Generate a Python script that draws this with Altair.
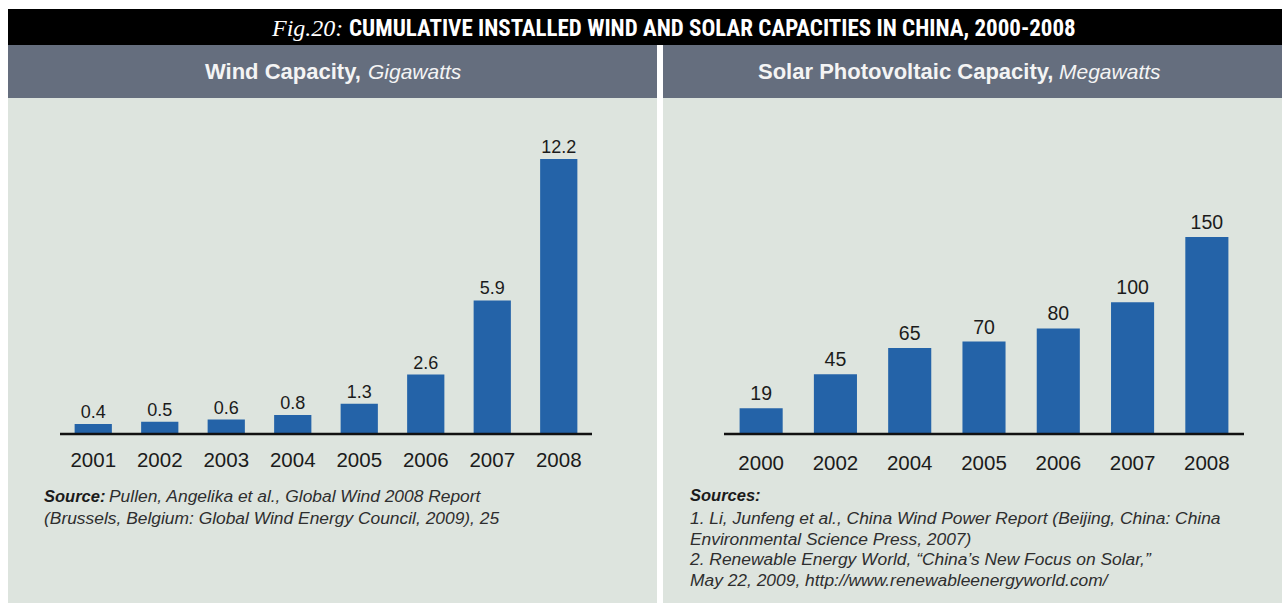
import altair as alt
import pandas as pd

# ---- data -------------------------------------------------------------
wind_years = ["2001", "2002", "2003", "2004", "2005", "2006", "2007", "2008"]
wind_gw = [0.4, 0.5, 0.6, 0.8, 1.3, 2.6, 5.9, 12.2]

solar_years = ["2000", "2002", "2004", "2005", "2006", "2007", "2008"]
solar_mw = [19, 45, 65, 70, 80, 100, 150]

# ---- text -------------------------------------------------------------
fig_label = "Fig.20:"
fig_title = "CUMULATIVE INSTALLED WIND AND SOLAR CAPACITIES IN CHINA, 2000-2008"
wind_head = "Wind Capacity,"
wind_unit = "Gigawatts"
solar_head = "Solar Photovoltaic Capacity,"
solar_unit = "Megawatts"
wind_src_label = "Source:"
wind_src_lines = [
    "Pullen, Angelika et al., Global Wind 2008 Report",
    "(Brussels, Belgium: Global Wind Energy Council, 2009), 25",
]
solar_src_label = "Sources:"
solar_src_lines = [
    "1. Li, Junfeng et al., China Wind Power Report (Beijing, China: China",
    "Environmental Science Press, 2007)",
    "2. Renewable Energy World, \u201cChina\u2019s New Focus on Solar,\u201d",
    "May 22, 2009, http://www.renewableenergyworld.com/",
]

# ---- style ------------------------------------------------------------
W, H = 1282, 603
BAR = "#2463a8"
PANEL = "#dde4de"
HEAD = "#656e7e"
INK = "#1b1b1b"
SRC_INK = "#2e2e2e"
SANS = "Liberation Sans"
NARROW = "Roboto Condensed, Roboto"

wind = pd.DataFrame({"year": wind_years, "gw": wind_gw})
solar = pd.DataFrame({"year": solar_years, "mw": solar_mw})
one = pd.DataFrame({"k": [0]})


def box(x0, x1, y0, y1, color):
    return alt.Chart(one).mark_rect(color=color).encode(
        x=alt.value(x0), x2=alt.value(x1), y=alt.value(y0), y2=alt.value(y1)
    )


def label(text, x, y, size, **kw):
    return alt.Chart(one).mark_text(
        text=text, fontSize=size, align=kw.pop("align", "left"),
        baseline="alphabetic", **kw
    ).encode(x=alt.value(x), y=alt.value(y))


# ---- backgrounds --------------------------------------------------------
frames = [
    box(8, W, 9, 45, "#000000"),
    box(8, 657, 45, 98, HEAD),
    box(663, W, 45, 98, HEAD),
    box(8, 657, 98, H, PANEL),
    box(663, W, 98, H, PANEL),
]

# ---- headings -----------------------------------------------------------
heads = [
    label(fig_label, 272, 36, 24, font="Liberation Serif", fontStyle="italic", color="white"),
    label(fig_title, 349, 36, 23, font=NARROW, fontWeight="bold", color="white"),
    label(wind_head, 205, 79, 22, font=SANS, fontWeight="bold", color="#f4f4f4"),
    label(wind_unit, 368, 79, 21, font=SANS, fontStyle="italic", color="#f4f4f4"),
    label(solar_head, 758, 79, 22, font=SANS, fontWeight="bold", color="#f4f4f4"),
    label(solar_unit, 1059, 79, 21, font=SANS, fontStyle="italic", color="#f4f4f4"),
]

# ---- wind panel ---------------------------------------------------------
wx = alt.X("year:N", sort=wind_years, axis=None,
           scale=alt.Scale(range=[60, 592], paddingInner=0.44, paddingOuter=0.22))
wy = alt.Y("gw:Q", axis=None,
           scale=alt.Scale(domain=[0, max(wind_gw)], range=[433, 159], nice=False, zero=True))
wind_base = alt.Chart(wind)
wind_group = alt.layer(
    wind_base.mark_bar(color=BAR).encode(x=wx, y=wy),
    wind_base.mark_text(fontSize=18, font=SANS, color=INK, baseline="alphabetic", dy=-6)
    .encode(x=wx, y=wy, text=alt.Text("gw:Q", format=".1f")),
    wind_base.mark_text(fontSize=20.5, font=SANS, color=INK, baseline="alphabetic")
    .encode(x=wx, y=alt.value(467), text="year:N"),
    alt.Chart(one).mark_rule(color="#111111", strokeWidth=2.5)
    .encode(x=alt.value(60), x2=alt.value(592), y=alt.value(434)),
)

# ---- solar panel --------------------------------------------------------
sx = alt.X("year:N", sort=solar_years, axis=None,
           scale=alt.Scale(range=[724, 1244], paddingInner=0.42, paddingOuter=0.21))
sy = alt.Y("mw:Q", axis=None,
           scale=alt.Scale(domain=[0, max(solar_mw)], range=[433, 237], nice=False, zero=True))
solar_base = alt.Chart(solar)
solar_group = alt.layer(
    solar_base.mark_bar(color=BAR).encode(x=sx, y=sy),
    solar_base.mark_text(fontSize=19.5, font=SANS, color=INK, baseline="alphabetic", dy=-8)
    .encode(x=sx, y=sy, text=alt.Text("mw:Q", format="d")),
    solar_base.mark_text(fontSize=20.5, font=SANS, color=INK, baseline="alphabetic")
    .encode(x=sx, y=alt.value(470), text="year:N"),
    alt.Chart(one).mark_rule(color="#111111", strokeWidth=2.5)
    .encode(x=alt.value(724), x2=alt.value(1244), y=alt.value(434)),
)

# ---- source notes -------------------------------------------------------
SRC = 17.4
notes = [
    label(wind_src_label, 44, 502, 16.5, font=SANS, fontWeight="bold", fontStyle="italic", color=INK),
    label(wind_src_lines[0], 109, 502, SRC, font=SANS, fontStyle="italic", color=SRC_INK),
    label(wind_src_lines[1], 44, 524, SRC, font=SANS, fontStyle="italic", color=SRC_INK),
    label(solar_src_label, 690, 501, 16.5, font=SANS, fontWeight="bold", fontStyle="italic", color=INK),
]
for i, line in enumerate(solar_src_lines):
    notes.append(label(line, 690, 524 + i * 20.5, SRC, font=SANS, fontStyle="italic", color=SRC_INK))

chart = alt.layer(
    *frames, *heads, wind_group, solar_group, *notes
).resolve_scale(
    x="independent", y="independent"
).properties(
    width=W, height=H, autosize=alt.AutoSizeParams(type="none"), padding=0,
    background="white",
).configure_view(stroke=None)

chart.save("out.html", embed_options={"renderer": "svg", "actions": False})
